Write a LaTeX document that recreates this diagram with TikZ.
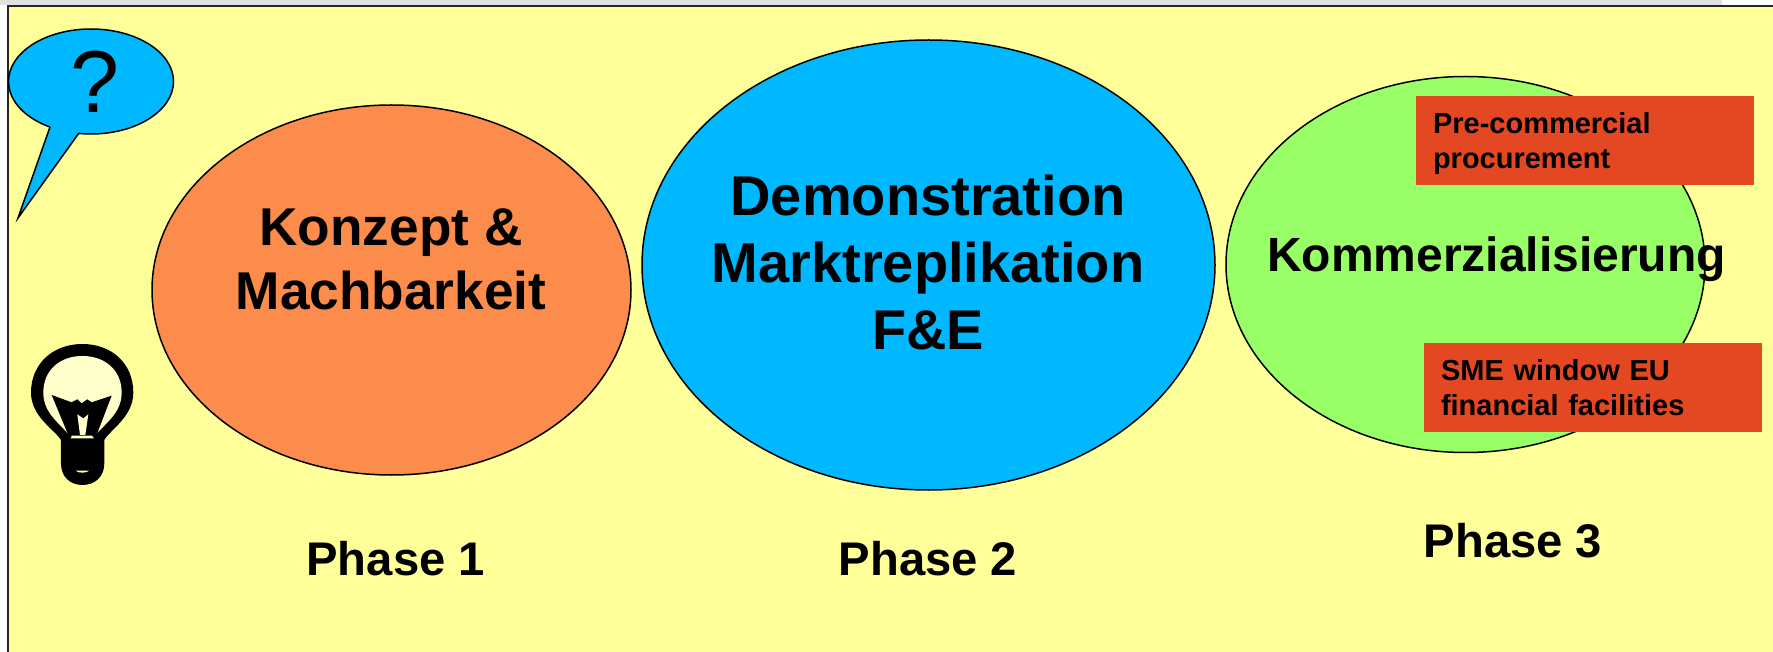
\documentclass[tikz,border=0pt]{standalone}
\usepackage{xcolor}
\usepackage{fontspec}
\setmainfont{Liberation Sans}
\usetikzlibrary{positioning,shapes.geometric}
\definecolor{bgyellow}{HTML}{FFFF99}
\definecolor{phaseorange}{HTML}{FC8C4B}
\definecolor{phaseblue}{HTML}{00B8FF}
\definecolor{phasegreen}{HTML}{99FF66}
\definecolor{boxred}{HTML}{E34823}
\definecolor{bulblight}{HTML}{FFFFCC}
\tikzset{
  blob/.style={draw, ellipse, inner sep=0pt, line width=1.5pt},
  bigtext/.style={align=center, inner sep=0pt, font=\fontsize{53.2}{64}\selectfont\bfseries},
  phasetext/.style={inner sep=0pt, font=\fontsize{47.2}{56}\selectfont\bfseries},
  redbox/.style={rectangle, fill=boxred, minimum width=338pt, minimum height=89pt, inner sep=0pt,
    text width=304pt, text height=22pt, text depth=35pt, align=left, font=\fontsize{29}{35}\selectfont\bfseries}
}
\begin{document}
\begin{tikzpicture}[x=1pt, y=-1pt]
\useasboundingbox (0,0) rectangle (1773,652);
\fill [white] (0,0) rectangle (1773,652);
\fill [black!12] (0,0) rectangle (1722,5);
\fill [bgyellow] (8,6) rectangle (1773,652);
\draw [line width=2pt, black!85] (8,652) -- (8,6) -- (1773,6);

\node (bubble) [blob, fill=phaseblue, minimum width=165pt, minimum height=105pt] at (91,81.5) {};
\coordinate (tailstart) at (50,127);
\coordinate (tailtip) at (18,218);
\coordinate (tailend) at (79,133);
\fill [phaseblue] (bubble.center) -- (tailstart) -- (tailtip) -- (tailend) -- cycle;
\draw [line width=1.5pt, line join=miter] (tailstart) -- (tailtip) -- (tailend);
\node (question) [inner sep=0pt, font=\fontsize{88}{88}\selectfont] at (94.5,81.5) {?};

\node (konzept) [blob, fill=phaseorange, minimum width=479pt, minimum height=370pt] at (391.5,290) {};
\node (demo) [blob, fill=phaseblue, minimum width=573pt, minimum height=450pt] at (928.5,265) {};
\node (komm) [blob, fill=phasegreen, minimum width=479pt, minimum height=376pt] at (1465.5,264.5) {};

\node (konzepttext) [bigtext] at (391,259) {Konzept \&\\Machbarkeit};
\node (demotext) [bigtext, font=\fontsize{56}{67}\selectfont\bfseries] at (928,262) {Demonstration\\Marktreplikation\\F\&E};
\node (kommtext) [bigtext, font=\fontsize{48}{58}\selectfont\bfseries] at (1496.5,259) {Kommerzialisierung};

\node (precom) [redbox] at (1585,140.5) {Pre-commercial\\procurement};
\node (sme) [redbox] at (1593,387.5) {SME window EU\\financial facilities};

\node (phaseone) [phasetext] at (395.7,559) {Phase 1};
\node (phasetwo) [phasetext] at (928,559) {Phase 2};
\node (phasethree) [phasetext] at (1513,541) {Phase 3};

\begin{scope}[shift={(0,320)}, x=0.3333pt, y=-0.3333pt]
\fill (183,360) .. controls (165,330) and (93,290) .. (93,218) .. controls (93,130) and (160,72) .. (247,72)
  .. controls (335,72) and (400,130) .. (400,218) .. controls (400,290) and (330,330) .. (313,360)
  -- (313,430) .. controls (313,470) and (285,495) .. (247,495) .. controls (210,495) and (183,470) .. (183,430) -- cycle;
\fill [bulblight] (207,345) .. controls (180,310) and (130,280) .. (130,218) .. controls (130,150) and (180,108) .. (247,108)
  .. controls (315,108) and (365,150) .. (365,218) .. controls (365,280) and (315,310) .. (287,345) -- cycle;
\fill (155,225) -- (215,247) -- (232,238) -- (245,250) -- (262,238) -- (275,247) -- (335,227) -- (288,350) -- (207,350) -- cycle;
\fill [bulblight] (232,283) -- (250,295) -- (265,283) -- (256,345) -- (240,345) -- cycle;
\fill [bulblight] (212,355) -- (216,347) -- (276,347) -- (282,355) -- cycle;
\fill [bulblight] (227,452) -- (267,452) .. controls (262,460) and (232,460) .. (227,452) -- cycle;
\end{scope}
\end{tikzpicture}
\end{document}
